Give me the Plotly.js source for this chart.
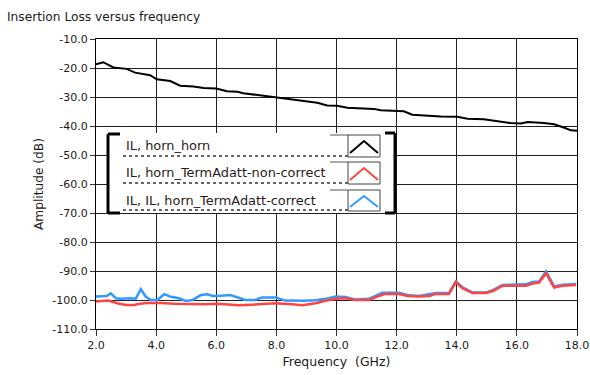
<!DOCTYPE html>
<html>
<head>
<meta charset="utf-8">
<script src="https://cdn.plot.ly/plotly-3.0.1.min.js"></script>
<style>html,body{margin:0;padding:0;background:#fff;}#chart{width:590px;height:375px;}</style>
</head>
<body>
<div id="chart"></div>
<script>
// ---- data ----
var seriesNames = ["IL, horn_horn", "IL, horn_TermAdatt-non-correct", "IL, IL, horn_TermAdatt-correct"];
var seriesColors = ["#000000", "#ff4444", "#3399ff"];

var blackF = [2.0,2.24,2.58,3.02,3.3,3.8,4.02,4.47,4.8,5.24,5.58,6.0,6.36,6.7,6.9,7.36,8.02,8.47,8.9,9.36,9.69,10.02,10.36,10.8,11.24,11.47,11.8,12.24,12.52,12.9,13.47,14.02,14.36,14.9,15.36,15.8,16.13,16.36,16.9,17.24,17.58,17.8,18.0];
var blackV = [-18.7,-18.0,-19.8,-20.3,-21.6,-22.5,-23.9,-24.5,-26.1,-26.4,-26.9,-27.1,-28.0,-28.2,-28.7,-29.4,-30.2,-30.8,-31.4,-32.0,-32.9,-33.0,-33.7,-33.8,-34.1,-34.6,-34.8,-34.9,-36.1,-36.4,-36.7,-36.8,-37.5,-37.7,-38.3,-39.0,-39.1,-38.6,-39.0,-39.4,-40.6,-41.5,-41.6];

var redF = [2.0,2.4,2.71,3.0,3.27,3.45,3.72,4.16,4.6,5.04,5.6,6.04,6.3,6.74,7.19,7.52,7.97,8.52,8.86,9.3,9.74,10.08,10.3,10.63,11.08,11.41,11.63,12.08,12.36,12.74,13.1,13.3,13.74,13.97,14.19,14.52,14.97,15.2,15.52,15.97,16.3,16.52,16.74,16.97,17.24,17.52,17.97];
var redV = [-100.5,-100.2,-101.1,-101.7,-101.7,-101.3,-101.0,-101.0,-101.3,-101.5,-101.5,-101.3,-101.4,-101.8,-101.6,-101.4,-101.1,-101.5,-101.8,-101.1,-100.0,-99.5,-99.4,-100.0,-100.0,-98.6,-97.9,-97.9,-98.6,-98.8,-98.6,-97.9,-97.9,-93.8,-95.9,-97.6,-97.6,-96.9,-95.1,-95.1,-95.1,-94.3,-94.0,-90.8,-95.7,-95.1,-94.8];

var blueF = [2.0,2.36,2.49,2.66,2.82,3.0,3.16,3.32,3.49,3.66,3.82,4.04,4.27,4.49,4.76,4.99,5.2,5.49,5.71,5.88,6.04,6.47,6.63,6.97,7.3,7.52,7.97,8.3,8.9,9.3,9.74,9.97,10.3,10.63,11.08,11.52,12.08,12.36,12.74,13.3,13.74,13.97,14.19,14.52,14.97,15.2,15.52,15.97,16.3,16.52,16.74,16.97,17.24,17.52,17.97];
var blueV = [-98.8,-98.6,-97.7,-99.4,-99.6,-99.4,-99.4,-99.6,-96.3,-98.9,-100.0,-100.0,-98.0,-98.9,-99.4,-100.3,-100.0,-98.3,-98.0,-98.6,-98.6,-98.3,-98.9,-100.0,-100.0,-99.1,-99.1,-100.2,-100.3,-100.1,-99.4,-98.8,-99.0,-99.8,-99.6,-97.5,-97.5,-98.3,-98.6,-97.6,-97.6,-93.6,-95.6,-97.4,-97.4,-96.6,-94.8,-94.7,-94.6,-93.8,-93.6,-90.1,-95.3,-94.7,-94.5];

var xTickVals = [2,4,6,8,10,12,14,16,18];
var xTickText = ["2.0","4.0","6.0","8.0","10.0","12.0","14.0","16.0","18.0"];
var yTickVals = [-10,-20,-30,-40,-50,-60,-70,-80,-90,-100,-110];
var yTickText = ["-10.0","-20.0","-30.0","-40.0","-50.0","-60.0","-70.0","-80.0","-90.0","-100.0","-110.0"];

// ---- layout helpers (plot area in pixels) ----
var M = {l:96, r:13, t:39, b:46};
var W = 590, H = 375;
var PW = W - M.l - M.r, PH = H - M.t - M.b;
function px(x){ return (x - M.l) / PW; }
function py(y){ return (H - M.b - y) / PH; }

var FONT = "DejaVu Sans, Verdana, sans-serif";
var TXT = "#1a1a1a";

var traces = [
  {x: blackF, y: blackV, mode: "lines", line: {color: seriesColors[0], width: 2}, name: seriesNames[0]},
  {x: blueF, y: blueV, mode: "lines", line: {color: seriesColors[2], width: 2.5}, name: seriesNames[2]},
  {x: redF, y: redV, mode: "lines", line: {color: seriesColors[1], width: 2.5}, name: seriesNames[1]}
];

// custom legend (LabVIEW style)
var shapes = [];
var annotations = [];
shapes.push({type:"rect", xref:"paper", yref:"paper", x0:px(108), x1:px(396), y0:py(213), y1:py(133), fillcolor:"#ffffff", line:{width:0}, layer:"above"});
var bl = {color:"#000", width:3};
shapes.push({type:"line", xref:"paper", yref:"paper", x0:px(108), x1:px(108), y0:py(134), y1:py(213), line:bl});
shapes.push({type:"line", xref:"paper", yref:"paper", x0:px(108), x1:px(120), y0:py(134), y1:py(134), line:bl});
shapes.push({type:"line", xref:"paper", yref:"paper", x0:px(108), x1:px(120), y0:py(213), y1:py(213), line:bl});
shapes.push({type:"line", xref:"paper", yref:"paper", x0:px(395), x1:px(395), y0:py(133), y1:py(213), line:bl});
shapes.push({type:"line", xref:"paper", yref:"paper", x0:px(385), x1:px(395), y0:py(133), y1:py(133), line:bl});
shapes.push({type:"line", xref:"paper", yref:"paper", x0:px(385), x1:px(395), y0:py(213), y1:py(213), line:bl});

var rowTop = [135, 162, 190];
var rowBot = [157, 184, 211];
for (var i = 0; i < seriesNames.length; i++) {
  var t = rowTop[i], b = rowBot[i];
  shapes.push({type:"line", xref:"paper", yref:"paper", x0:px(123), x1:px(348), y0:py(b-1), y1:py(b-1), line:{color:"#333", width:1.5, dash:"dot"}, layer:"above"});
  shapes.push({type:"line", xref:"paper", yref:"paper", x0:px(330), x1:px(348), y0:py(t), y1:py(t), line:{color:"#555", width:1}, layer:"above"});
  shapes.push({type:"rect", xref:"paper", yref:"paper", x0:px(348), x1:px(380), y0:py(b), y1:py(t), fillcolor:"#fff", line:{color:"#444", width:1}, layer:"above"});
  var gx0 = px(350), gx1 = px(364), gx2 = px(378);
  var gyb = py(b-4), gyt = py(t+6);
  shapes.push({type:"path", xref:"paper", yref:"paper", path:"M "+gx0+" "+gyb+" L "+gx1+" "+gyt+" L "+gx2+" "+gyb, line:{color:seriesColors[i], width:2}, layer:"above"});
  annotations.push({xref:"paper", yref:"paper", x:px(124), y:py((t+b)/2 - 0.5), xanchor:"left", yanchor:"middle", text:seriesNames[i], showarrow:false, font:{family:FONT, size:12.9, color:"#2a1a1a"}});
}

var layout = {
  width: W, height: H,
  margin: M,
  paper_bgcolor: "#ffffff", plot_bgcolor: "#ffffff",
  showlegend: false,
  font: {family: FONT, size: 11, color: TXT},
  title: {text: "Insertion Loss versus frequency", x: 7/W, xanchor: "left", y: 1 - 17/H, yanchor: "middle", font: {family: FONT, size: 12.2, color: TXT}},
  xaxis: {
    range: [2, 18], tickvals: xTickVals, ticktext: xTickText,
    ticks: "outside", ticklen: 6, tickcolor: "#333", tickwidth: 1,
    showgrid: true, gridcolor: "#222", gridwidth: 1,
    showline: true, linecolor: "#000", linewidth: 1, mirror: true,
    zeroline: false,
    tickfont: {family: FONT, size: 11, color: TXT},
    title: {text: "Frequency\u00a0 (GHz)", font: {family: FONT, size: 12.5, color: TXT}, standoff: 6}
  },
  yaxis: {
    range: [-110, -10], tickvals: yTickVals, ticktext: yTickText,
    ticks: "outside", ticklen: 5, tickcolor: "#333", tickwidth: 1,
    showgrid: true, gridcolor: "#222", gridwidth: 1,
    showline: true, linecolor: "#000", linewidth: 1, mirror: true,
    zeroline: false,
    tickfont: {family: FONT, size: 11, color: TXT},
    title: {text: "Amplitude (dB)", font: {family: FONT, size: 12.2, color: TXT}, standoff: 6}
  },
  shapes: shapes,
  annotations: annotations
};

Plotly.newPlot("chart", traces, layout, {staticPlot: true, displayModeBar: false});
</script>
</body>
</html>
